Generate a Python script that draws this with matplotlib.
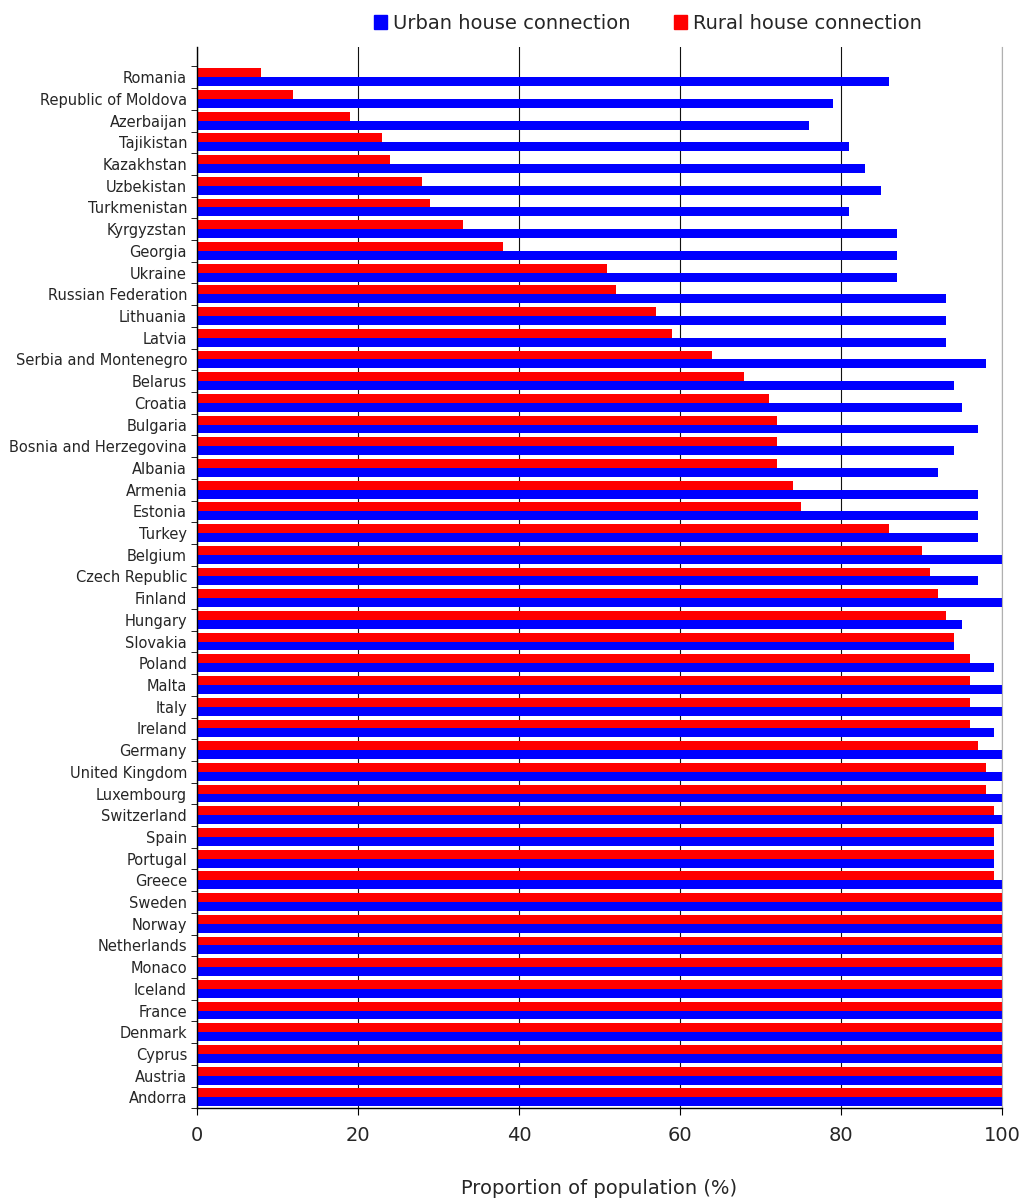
import numpy as np
import matplotlib
matplotlib.use("Agg")
import matplotlib.pyplot as plt
from matplotlib.patches import Patch

# countries listed top to bottom as in the chart
countries = ["Romania", "Republic of Moldova", "Azerbaijan", "Tajikistan", "Kazakhstan",
             "Uzbekistan", "Turkmenistan", "Kyrgyzstan", "Georgia", "Ukraine",
             "Russian Federation", "Lithuania", "Latvia", "Serbia and Montenegro", "Belarus",
             "Croatia", "Bulgaria", "Bosnia and Herzegovina", "Albania", "Armenia",
             "Estonia", "Turkey", "Belgium", "Czech Republic", "Finland",
             "Hungary", "Slovakia", "Poland", "Malta", "Italy",
             "Ireland", "Germany", "United Kingdom", "Luxembourg", "Switzerland",
             "Spain", "Portugal", "Greece", "Sweden", "Norway",
             "Netherlands", "Monaco", "Iceland", "France", "Denmark",
             "Cyprus", "Austria", "Andorra"]

urban = [86, 79, 76, 81, 83, 85, 81, 87, 87, 87,
         93, 93, 93, 98, 94, 95, 97, 94, 92, 97,
         97, 97, 100, 97, 100, 95, 94, 99, 100, 100,
         99, 100, 100, 100, 100, 99, 99, 100, 100, 100,
         100, 100, 100, 100, 100, 100, 100, 100]

rural = [8, 12, 19, 23, 24, 28, 29, 33, 38, 51,
         52, 57, 59, 64, 68, 71, 72, 72, 72, 74,
         75, 86, 90, 91, 92, 93, 94, 96, 96, 96,
         96, 97, 98, 98, 99, 99, 99, 99, 100, 100,
         100, 100, 100, 100, 100, 100, 100, 100]

x_ticks = [0, 20, 40, 60, 80, 100]

plt.rcParams['font.family'] = ['DejaVu Sans']
txt = '#262626'

n = len(countries)
ypos = np.arange(n)[::-1]
h = 0.41

fig = plt.figure(figsize=(10.25, 12.02), dpi=100)
ax = fig.add_axes([0.192, 0.078, 0.7856, 0.883])

ax.barh(ypos + h / 2, rural, height=h, color='#ff0000', zorder=2)
ax.barh(ypos - h / 2, urban, height=h, color='#0000ff', zorder=2)

ax.set_xlim(0, 100)
ax.set_ylim(-0.5, n - 0.5 + 0.9)

ax.set_xticks(x_ticks)
ax.tick_params(axis='x', labelsize=14, length=5, direction='out', pad=8, labelcolor=txt)
ax.xaxis.grid(True, color='#111111', linewidth=0.8, zorder=0)
ax.set_axisbelow(True)
ax.set_xlabel("Proportion of population (%)", fontsize=14, labelpad=24, color=txt)

ax.set_yticks(ypos)
ax.set_yticklabels(countries, fontsize=10.5, color=txt)
ax.tick_params(axis='y', which='major', length=0, pad=7)
ax.set_yticks(np.arange(n + 1) - 0.5, minor=True)
ax.tick_params(axis='y', which='minor', length=4, direction='out')

ax.spines['top'].set_visible(False)
ax.spines['right'].set_color('#b0b0b0')
ax.spines['left'].set_linewidth(1.0)
ax.spines['bottom'].set_linewidth(1.0)

handles = [Patch(color='#0000ff', label='Urban house connection'),
           Patch(color='#ff0000', label='Rural house connection')]
fig.legend(handles=handles, loc='upper center', bbox_to_anchor=(0.632, 1.003), ncol=2,
           frameon=False, fontsize=14, handlelength=0.7, handleheight=0.7,
           handletextpad=0.3, columnspacing=2.2, labelcolor=txt)

fig.savefig("out.png", dpi=100)
